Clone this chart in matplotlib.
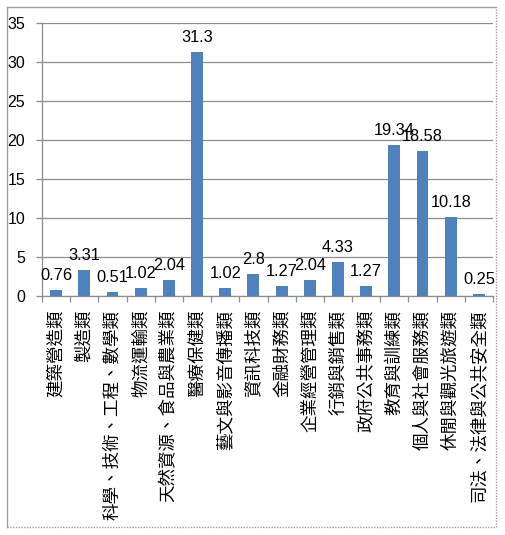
import matplotlib
matplotlib.use("Agg")
import matplotlib.pyplot as plt
from matplotlib.lines import Line2D
import numpy as np

categories = ["建築營造類", "製造類", "科學、技術、工程、數學類", "物流運輸類",
              "天然資源、食品與農業類", "醫療保健類", "藝文與影音傳播類", "資訊科技類",
              "金融財務類", "企業經營管理類", "行銷與銷售類", "政府公共事務類",
              "教育與訓練類", "個人與社會服務類", "休閒與觀光旅遊類", "司法、法律與公共安全類"]
values = [0.76, 3.31, 0.51, 1.02, 2.04, 31.3, 1.02, 2.8, 1.27, 2.04, 4.33, 1.27,
          19.34, 18.58, 10.18, 0.25]
value_labels = ["0.76", "3.31", "0.51", "1.02", "2.04", "31.3", "1.02", "2.8", "1.27",
                "2.04", "4.33", "1.27", "19.34", "18.58", "10.18", "0.25"]
yticks = [0, 5, 10, 15, 20, 25, 30, 35]

W, H = 505, 535
fig = plt.figure(figsize=(W / 100, H / 100), dpi=100)
ax = fig.add_axes([42 / W, 1 - 296 / H, (493 - 42) / W, (296 - 22.7) / H])

grid_c = "#8c8c8c"
bar_c = "#4f81bd"
num_font = ["Liberation Sans", "DejaVu Sans"]
cjk_font = ["Noto Sans CJK TC", "DejaVu Sans"]

x = np.arange(len(categories))
bars = ax.bar(x, values, width=0.42, color=bar_c, zorder=3)
for xi, v, lab in zip(x, values, value_labels):
    ax.annotate(lab, (xi, v), xytext=(0, 5), textcoords="offset points",
                ha="center", va="bottom", fontsize=11.8, family=num_font, zorder=4)

ax.set_xlim(-0.5, len(categories) - 0.5)
ax.set_ylim(0, 35)
ax.set_yticks(yticks)
ax.set_yticklabels([str(t) for t in yticks], family=num_font, fontsize=11.5)
ax.yaxis.grid(True, color=grid_c, linewidth=0.9, zorder=0)
ax.set_axisbelow(True)

ax.set_xticks(x)
ax.set_xticklabels(categories, rotation=90, ha="center", va="top",
                   family=cjk_font, fontsize=12.6)
ax.set_xticks(np.arange(len(categories) + 1) - 0.5, minor=True)
ax.tick_params(axis="x", which="major", length=0, pad=10)
ax.tick_params(axis="x", which="minor", length=4, width=0.9, color=grid_c, direction="out")
ax.tick_params(axis="y", length=4, width=0.9, color=grid_c, direction="out", pad=8)

for s in ["top", "right"]:
    ax.spines[s].set_visible(False)
for s in ["left", "bottom"]:
    ax.spines[s].set_color(grid_c)
    ax.spines[s].set_linewidth(0.9)

# outer chart border
l, r, t, b = 6.7 / W, 496 / W, 1 - 6.7 / H, 1 - 527 / H
fig.add_artist(Line2D([l, r], [t, t], transform=fig.transFigure, color="#a0a0a0", lw=1))
fig.add_artist(Line2D([l, l], [b, t], transform=fig.transFigure, color="#a0a0a0", lw=1))
fig.add_artist(Line2D([r, r], [b, t], transform=fig.transFigure, color="#a0a0a0", lw=1, ls=(0, (1, 1))))
fig.add_artist(Line2D([l, r], [b, b], transform=fig.transFigure, color="#a0a0a0", lw=1, ls=(0, (1, 1))))

fig.savefig("out.png", dpi=100, facecolor="white")
